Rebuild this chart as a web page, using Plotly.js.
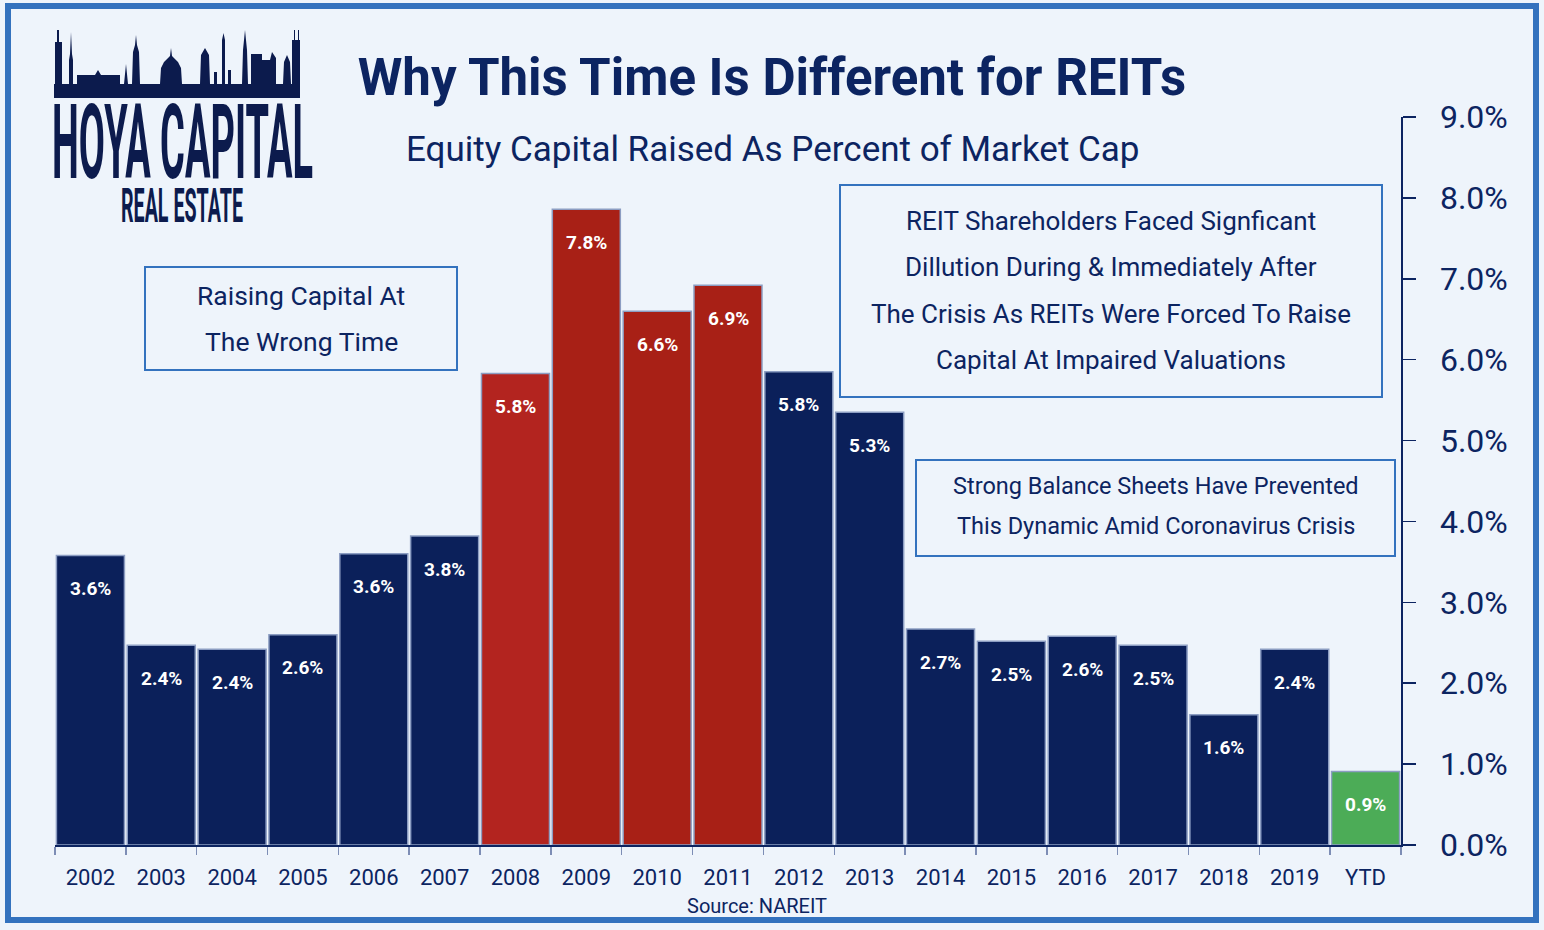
<!DOCTYPE html>
<html>
<head>
<meta charset="utf-8">
<script src="https://cdn.plot.ly/plotly-3.0.1.min.js"></script>
<style>
  html, body { margin: 0; padding: 0; background: #eef4fb; }
  #wrap { position: relative; width: 1544px; height: 930px; }
  #chart { position: absolute; left: 0; top: 0; width: 1544px; height: 930px; }
  #overlay { position: absolute; left: 0; top: 0; pointer-events: none; }
</style>
</head>
<body>
<div id="wrap">
  <div id="chart"></div>
  <svg id="overlay" width="1544" height="930">
    <!-- frame -->
    <rect x="8" y="6" width="1528" height="914" fill="none" stroke="#3372be" stroke-width="6"/>
    <!-- logo skyline -->
    <path fill="#0c1b4d" d="M54,98 L54,84 L55,84 L55,42 L57,42 L57,30 L59,30 L59,42 L62,42 L62,84
      L69,84 L69,60 L70,54 L71,32 L72,54 L73,60 L73,84 L77,84 L77,75 L95,75 L98,70 L101,75 L120,75 L120,84
      L124,84 L126,64 L128,84 L132,84 L133,52 L135,45 L136,35 L137,45 L139,52 L140,84
      L160,84 L161,68 L164,62 L170,56 L171,48 L172,56 L178,62 L181,68 L182,84
      L200,84 L201,55 L205,48 L209,55 L210,84 L214,84 L214,72 L217,72 L217,84
      L222,84 L222,40 L223.5,33 L225,40 L225,84 L228,84 L228,70 L231,70 L231,84
      L242,84 L243,50 L245,30 L247,50 L248,84 L251,84 L251,54 L262,54 L262,60 L270,60 L272,52 L276,58 L276,84
      L283,84 L284,62 L287,55 L290,62 L291,84 L292,84 L292,40 L294,40 L294,30 L295,30 L295,40 L298,40 L298,30 L299,30 L299,40 L300,40 L300,98 Z"/>
    <text x="52" y="178" font-family="Roboto, sans-serif" font-weight="bold"
      font-size="103" fill="#0c1b4d" textLength="261" lengthAdjust="spacingAndGlyphs">HOYA CAPITAL</text>
    <text x="121" y="222" font-family="Roboto, sans-serif" font-weight="bold"
      font-size="48" fill="#0c1b4d" textLength="122" lengthAdjust="spacingAndGlyphs">REAL ESTATE</text>
  </svg>
</div>
<script>
// data
var years = ['2002','2003','2004','2005','2006','2007','2008','2009','2010','2011',
             '2012','2013','2014','2015','2016','2017','2018','2019','YTD'];
var raised = [3.58, 2.47, 2.42, 2.60, 3.60, 3.82, 5.83, 7.86, 6.60, 6.92,
              5.85, 5.35, 2.67, 2.52, 2.58, 2.47, 1.61, 2.42, 0.91];
var valueLabels = ['3.6%','2.4%','2.4%','2.6%','3.6%','3.8%','5.8%','7.8%','6.6%','6.9%',
                   '5.8%','5.3%','2.7%','2.5%','2.6%','2.5%','1.6%','2.4%','0.9%'];
var barColors = ['#0b205a','#0b205a','#0b205a','#0b205a','#0b205a','#0b205a',
                 '#b3241f','#a82016','#a82016','#a82016',
                 '#0b205a','#0b205a','#0b205a','#0b205a','#0b205a','#0b205a','#0b205a','#0b205a',
                 '#4cac57'];

// callout texts, one entry per line
var noteLeft = ['Raising Capital At', 'The Wrong Time'];
var noteCrisis = ['REIT Shareholders Faced Signficant', 'Dillution During & Immediately After',
                  'The Crisis As REITs Were Forced To Raise', 'Capital At Impaired Valuations'];
var noteNow = ['Strong Balance Sheets Have Prevented', 'This Dynamic Amid Coronavirus Crisis'];

var navy = '#0c2461';
var font = 'Roboto, sans-serif';

// plot area in pixels: x 55..1401, y 117..845
function px(x) { return (x - 55) / 1346; }
function py(y) { return (845 - y) / 728; }

var trace = {
  type: 'bar',
  x: years,
  y: raised,
  marker: { color: barColors, line: { color: '#8c9dc2', width: 1.5 } },
  hoverinfo: 'skip'
};

var annotations = [];
var shapes = [];
for (var i = 0; i < years.length; i++) {
  annotations.push({
    x: i, y: raised[i], xref: 'x', yref: 'y',
    text: valueLabels[i], showarrow: false, yshift: -33, yanchor: 'middle',
    font: { family: font, size: 19, color: '#ffffff', weight: 'bold' }
  });
}

// a framed note: rectangle from pixel box, lines centred at given pixel rows
function note(x0, y0, x1, y1, lines, firstY, step, size) {
  shapes.push({
    type: 'rect', xref: 'paper', yref: 'paper',
    x0: px(x0), x1: px(x1), y0: py(y1), y1: py(y0),
    line: { color: '#3372be', width: 2 }, fillcolor: '#eef4fb', layer: 'above'
  });
  for (var k = 0; k < lines.length; k++) {
    annotations.push({
      x: px((x0 + x1) / 2), y: py(firstY + k * step), xref: 'paper', yref: 'paper',
      xanchor: 'center', yanchor: 'middle', showarrow: false,
      text: lines[k].replace('&', '&amp;'),
      font: { family: font, size: size, color: navy }
    });
  }
}

note(145, 267, 457, 370, noteLeft, 295, 46, 26.5);
note(840, 185, 1382, 397, noteCrisis, 221, 46.3, 26);
note(916, 460, 1395, 556, noteNow, 486, 40, 23.5);

annotations.push({
  x: px(772), y: py(150), xref: 'paper', yref: 'paper', xanchor: 'center', yanchor: 'middle',
  text: 'Equity Capital Raised As Percent of Market Cap', showarrow: false,
  font: { family: font, size: 35, color: navy }
});
annotations.push({
  x: px(757), y: py(906), xref: 'paper', yref: 'paper', xanchor: 'center', yanchor: 'middle',
  text: 'Source: NAREIT', showarrow: false,
  font: { family: font, size: 20, color: navy }
});

var layout = {
  width: 1544, height: 930,
  margin: { l: 55, r: 143, t: 117, b: 85 },
  paper_bgcolor: '#eef4fb',
  plot_bgcolor: '#eef4fb',
  showlegend: false,
  bargap: 0.04,
  title: {
    text: 'Why This Time Is Different for REITs',
    x: 0.5, xref: 'container', xanchor: 'center',
    y: 1 - 77 / 930, yref: 'container', yanchor: 'middle',
    font: { family: font, size: 51, color: navy, weight: 'bold' }
  },
  xaxis: {
    type: 'category', range: [-0.5, years.length - 0.5], autorange: false,
    showgrid: false, zeroline: false,
    showline: true, linecolor: navy, linewidth: 1.5,
    ticks: 'outside', tickson: 'boundaries', ticklen: 8, tickcolor: '#7d8db5', tickwidth: 1.5,
    tickangle: 0, ticklabelstandoff: 12,
    tickfont: { family: font, size: 22, color: navy }
  },
  yaxis: {
    side: 'right', range: [0, 9], dtick: 1, autorange: false,
    showgrid: false, zeroline: false,
    showline: true, linecolor: navy, linewidth: 1.5,
    ticks: 'outside', ticklen: 13, tickcolor: navy, tickwidth: 1.5,
    tickformat: '.1f', ticksuffix: '%', ticklabelstandoff: 18,
    tickfont: { family: font, size: 32, color: navy }
  },
  shapes: shapes,
  annotations: annotations
};

Plotly.newPlot('chart', [trace], layout, { displayModeBar: false, staticPlot: true });
</script>
</body>
</html>
